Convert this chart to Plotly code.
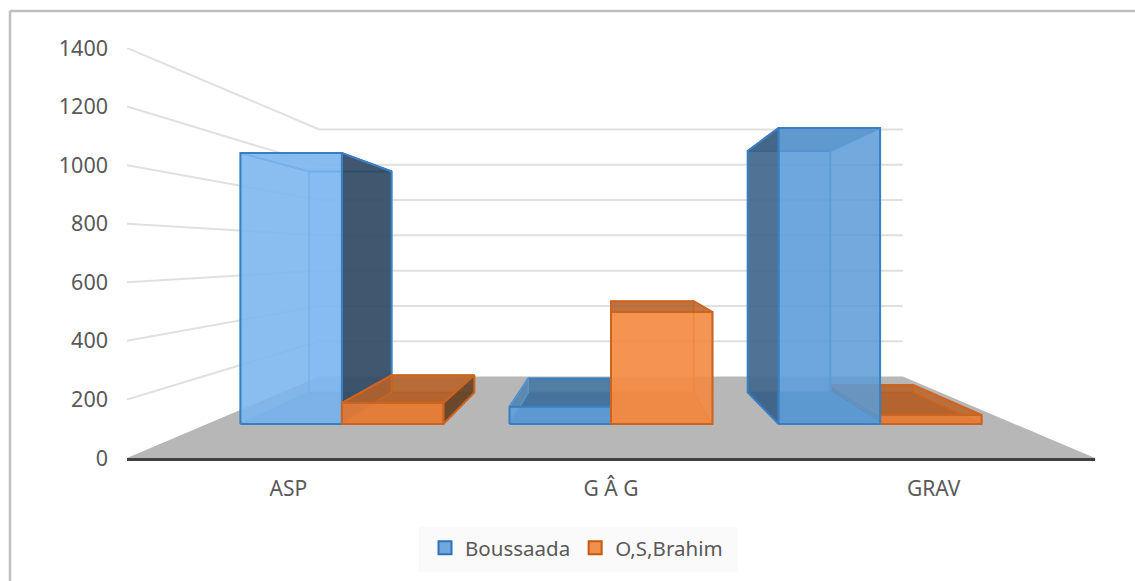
import plotly.graph_objects as go

# chart values
categories = ["ASP", "G Â G", "GRAV"]
boussaada = [1109, 70, 1212]
os_brahim = [86, 458, 37]
y_ticks = [0, 200, 400, 600, 800, 1000, 1200, 1400]

# the 3D look: everything is shrunk towards the middle of the plot
VANISH_X = 1.0
VANISH_Y = 700
S_BAR_FRONT = 0.834
S_BAR_BACK = 0.68
S_WALL = 0.603
BAR_W = 0.377

# plot area in pixels
W, H = 1135, 581
L, R, T, B = 127, 40, 48, 123


def project(x, v, s):
    return VANISH_X + (x - VANISH_X) * s, VANISH_Y + (v - VANISH_Y) * s


def paper_x(px):
    return (px - L) / (W - L - R)


def paper_y(py):
    return 1 - (py - T) / (H - T - B)


def face(fig, pts, fill, line, width=2):
    xs, ys = zip(*pts)
    fig.add_trace(go.Scatter(
        x=list(xs) + [xs[0]], y=list(ys) + [ys[0]],
        mode="lines", fill="toself", fillcolor=fill,
        line=dict(color=line, width=width),
        showlegend=False, hoverinfo="skip",
    ))


def add_bar(fig, x0, value, style):
    x1 = x0 + BAR_W
    f = lambda x, v: project(x, v, S_BAR_FRONT)
    b = lambda x, v: project(x, v, S_BAR_BACK)
    face(fig, [b(x0, 0), b(x1, 0), b(x1, value), b(x0, value)], style["back"], style["thin"], 1.5)
    face(fig, [f(x0, 0), f(x1, 0), b(x1, 0), b(x0, 0)], style["bottom"], style["thin"], 1.5)
    face(fig, [f(x0, value), f(x1, value), b(x1, value), b(x0, value)], style["top"], style["edge"], 2)
    # the side turned to the viewer gets the strong shade
    left_seen = x0 > VANISH_X - 1e-6
    right_seen = x1 < VANISH_X + 1e-6
    face(fig, [f(x0, 0), f(x0, value), b(x0, value), b(x0, 0)],
         style["left"] if left_seen else style["inner"], style["edge"] if left_seen else style["thin"], 2 if left_seen else 1.5)
    face(fig, [f(x1, 0), f(x1, value), b(x1, value), b(x1, 0)],
         style["right"] if right_seen else style["inner"], style["edge"] if right_seen else style["thin"], 2 if right_seen else 1.5)
    face(fig, [f(x0, 0), f(x1, 0), f(x1, value), f(x0, value)], style["front"], style["edge"], 2)


blue = dict(
    front="rgba(91,155,213,0.82)", back="rgba(130,190,250,0.55)", bottom="rgba(70,130,190,0.75)",
    left="rgba(60,95,130,0.85)", right="rgba(50,72,95,0.9)", inner="rgba(110,170,230,0.25)",
    top="rgba(60,105,145,0.75)", edge="#3a7fc1", thin="rgba(91,155,213,0.8)",
)
# the ASP column is lit brighter in the original
blue_light = dict(blue, front="rgba(125,182,238,0.85)", bottom="rgba(70,130,190,0.55)", top="rgba(130,190,250,0.5)")
orange = dict(
    front="rgba(232,125,55,0.88)", back="rgba(240,140,70,0.55)", bottom="rgba(200,100,40,0.75)",
    left="rgba(110,70,40,0.9)", right="rgba(95,65,40,0.88)", inner="rgba(210,105,40,0.3)",
    top="rgba(175,95,40,0.8)", edge="#cc6420", thin="rgba(210,100,30,0.8)",
)
orange_light = dict(orange, front="rgba(245,140,70,0.88)")

fig = go.Figure()

# floor
fig.add_trace(go.Scatter(
    x=[-0.5, project(-0.5, 0, S_WALL)[0], project(2.5, 0, S_WALL)[0], 2.5, -0.5],
    y=[0, project(-0.5, 0, S_WALL)[1], project(2.5, 0, S_WALL)[1], 0, 0],
    mode="lines", fill="toself", fillcolor="#b7b7b7", line=dict(width=0),
    showlegend=False, hoverinfo="skip",
))

# gridlines: along the left wall and then across the back wall
for tick in y_ticks[1:]:
    corner_l = project(-0.5, tick, S_WALL)
    corner_r = project(2.5, tick, S_WALL)
    fig.add_trace(go.Scatter(
        x=[-0.5, corner_l[0], corner_r[0]], y=[tick, corner_l[1], corner_r[1]],
        mode="lines", line=dict(color="#e0e0e0", width=2),
        showlegend=False, hoverinfo="skip",
    ))

# drawn back to front as in the original, GRAV orange sits behind GRAV blue
add_bar(fig, 0 - BAR_W, boussaada[0], blue_light)
add_bar(fig, 0, os_brahim[0], orange)
add_bar(fig, 1 - BAR_W, boussaada[1], blue)
add_bar(fig, 1, os_brahim[1], orange_light)
add_bar(fig, 2, os_brahim[2], orange)
add_bar(fig, 2 - BAR_W, boussaada[2], blue)

# legend entries
fig.add_trace(go.Scatter(x=[None], y=[None], mode="markers", name="Boussaada",
                         marker=dict(symbol="square", size=13, color="#71a7dc", line=dict(color="#2e75b6", width=2))))
fig.add_trace(go.Scatter(x=[None], y=[None], mode="markers", name="O,S,Brahim",
                         marker=dict(symbol="square", size=13, color="#f0904f", line=dict(color="#c55a11", width=2))))

fig.update_layout(
    width=W, height=H,
    margin=dict(l=L, r=R, t=T, b=B),
    paper_bgcolor="white", plot_bgcolor="rgba(0,0,0,0)",
    font=dict(family="Noto Sans", size=21, color="#595959"),
    # container refs so the legend does not push the bottom margin
    legend=dict(orientation="h", xref="container", yref="container",
                x=425 / W, xanchor="left", y=1 - 528 / H, yanchor="top",
                bgcolor="rgba(0,0,0,0)", font=dict(size=20.5), itemwidth=30),
    shapes=[
        # legend backing
        dict(type="rect", xref="paper", yref="paper", layer="below",
             x0=paper_x(419), x1=paper_x(738), y0=paper_y(572), y1=paper_y(527),
             fillcolor="#fafafa", line=dict(width=0)),
        # chart frame, only its top and left edges are in the picture
        dict(type="line", xref="paper", yref="paper", layer="below",
             x0=paper_x(10), x1=paper_x(1135), y0=paper_y(11), y1=paper_y(11),
             line=dict(color="#bfbfbf", width=2.5)),
        dict(type="line", xref="paper", yref="paper", layer="below",
             x0=paper_x(10), x1=paper_x(10), y0=paper_y(11), y1=paper_y(581),
             line=dict(color="#bfbfbf", width=2.5)),
    ],
)
fig.update_xaxes(
    range=[-0.5, 2.5], tickmode="array", tickvals=[0, 1, 2], ticktext=categories,
    showgrid=False, zeroline=False, showline=True, linecolor="#404040", linewidth=2.5,
    ticks="", ticklabelstandoff=10,
)
fig.update_yaxes(
    range=[0, 1400], tickmode="array", tickvals=y_ticks, tickfont=dict(size=21.5),
    showgrid=False, zeroline=False, showline=False, ticks="", ticklabelstandoff=18,
)

fig.write_html("out.html", config=dict(displayModeBar=False),
               post_script="document.body.style.margin='0';document.body.style.overflow='hidden';")
